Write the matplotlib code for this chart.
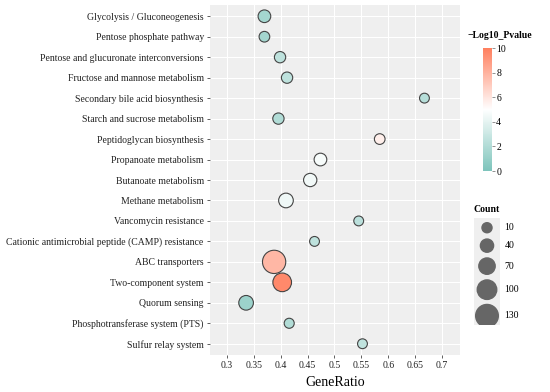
import numpy as np
import matplotlib
matplotlib.use("Agg")
import matplotlib.pyplot as plt
from matplotlib.colors import LinearSegmentedColormap, Normalize

plt.rcParams['font.family'] = ['Liberation Serif', 'DejaVu Serif']

# KEGG pathways, top to bottom
pathways = [
    "Glycolysis / Gluconeogenesis",
    "Pentose phosphate pathway",
    "Pentose and glucuronate interconversions",
    "Fructose and mannose metabolism",
    "Secondary bile acid biosynthesis",
    "Starch and sucrose metabolism",
    "Peptidoglycan biosynthesis",
    "Propanoate metabolism",
    "Butanoate metabolism",
    "Methane metabolism",
    "Vancomycin resistance",
    "Cationic antimicrobial peptide (CAMP) resistance",
    "ABC transporters",
    "Two-component system",
    "Quorum sensing",
    "Phosphotransferase system (PTS)",
    "Sulfur relay system",
]
gene_ratio = [0.370, 0.370, 0.399, 0.412, 0.667, 0.396, 0.584, 0.474, 0.455,
              0.410, 0.545, 0.463, 0.388, 0.403, 0.336, 0.416, 0.552]
counts = [35, 16, 22, 22, 8, 22, 16, 35, 41, 54, 8, 8, 136, 92, 54, 10, 8]
log_p = [1.5, 1.5, 2.5, 2.5, 2.2, 2.0, 5.6, 4.7, 4.5, 4.4, 2.4, 2.5, 7.8, 9.6, 1.2, 2.0, 2.6]

legend_counts = [10, 40, 70, 100, 130]
cbar_ticks = [0, 2, 4, 6, 8, 10]


def point_size(c):
    # diameter in px grows roughly linearly with count, convert to pt^2
    d_px = 9 + 0.105 * np.asarray(c, dtype=float)
    return (d_px * 0.72) ** 2


cmap = LinearSegmentedColormap.from_list("pv", ["#7DC4BB", "#FFFFFF", "#FF7F5E"])
norm = Normalize(0, 10)

fig = plt.figure(figsize=(5.5, 3.92), dpi=100)
ax = fig.add_axes([210 / 550, 1 - 355 / 392, 250 / 550, 350 / 392])
ax.set_facecolor("#EFEFEF")
for s in ax.spines.values():
    s.set_visible(False)

ypos = np.arange(len(pathways))[::-1]
ax.scatter(gene_ratio, ypos, s=point_size(counts), c=log_p, cmap=cmap, norm=norm,
           edgecolors="#444444", linewidths=0.8, zorder=3)

ax.set_yticks(ypos)
ax.set_yticklabels(pathways, fontsize=7)
ax.set_ylim(-0.55, len(pathways) - 0.45)
ax.set_xlim(0.269, 0.733)
ax.set_xticks(np.arange(0.3, 0.701, 0.05))
ax.set_xticklabels(["0.3", "0.35", "0.4", "0.45", "0.5", "0.55", "0.6", "0.65", "0.7"], fontsize=7)
ax.tick_params(length=2.5, width=0.6, color="#444444", labelcolor="#222222", pad=2)
ax.grid(True, color="white", linewidth=0.8)
ax.set_axisbelow(True)
ax.set_xlabel("GeneRatio", fontsize=10, labelpad=4)

# colour bar
cax = fig.add_axes([483 / 550, 1 - 171 / 392, 9 / 550, 123 / 392])
sm = plt.cm.ScalarMappable(norm=norm, cmap=cmap)
cb = fig.colorbar(sm, cax=cax, ticks=cbar_ticks)
cb.outline.set_visible(False)
cax.tick_params(labelsize=7, length=2, width=0.5, color="#666666", pad=1)
fig.text(500 / 550, 1 - 36 / 392, "\u2212Log10_Pvalue", fontsize=7, fontweight="bold",
         ha="center", va="center")

# size legend
lax = fig.add_axes([474 / 550, 1 - 325 / 392, 26 / 550, 107 / 392])
lax.set_facecolor("#EFEFEF")
for s in lax.spines.values():
    s.set_visible(False)
lax.set_xticks([])
lax.set_yticks([])
ly = [0, 1.75, 3.75, 6.05, 8.6]
lax.scatter([0] * len(legend_counts), ly, s=point_size(legend_counts), color="#666666")
lax.set_xlim(-1, 1)
lax.set_ylim(9.5, -0.95)
for c, y in zip(legend_counts, ly):
    lax.text(1.35, y, str(c), fontsize=7, va="center", ha="left", transform=lax.transData,
             clip_on=False)
fig.text(474 / 550, 1 - 209 / 392, "Count", fontsize=7, fontweight="bold", ha="left", va="center")

fig.savefig("out.png", dpi=100)
